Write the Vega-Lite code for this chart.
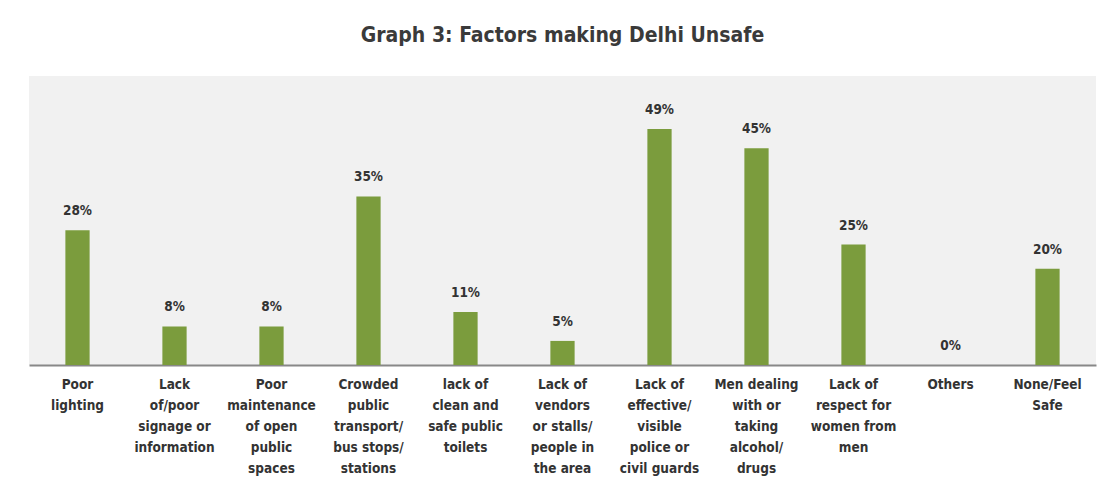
{
  "$schema": "https://vega.github.io/schema/vega-lite/v6.json",
  "autosize": "none",
  "width": 1067,
  "height": 289,
  "padding": {"left": 29, "top": 76, "right": 18, "bottom": 128},
  "background": "#ffffff",
  "title": {
    "text": "Graph 3: Factors making Delhi Unsafe",
    "font": "DejaVu Sans Condensed",
    "fontSize": 21,
    "fontWeight": "bold",
    "color": "#3a3a3a",
    "anchor": "middle",
    "offset": 30
  },
  "data": {
    "values": [
      {"factor": "Poor|lighting", "value": 28},
      {"factor": "Lack|of/poor|signage or|information", "value": 8},
      {"factor": "Poor|maintenance|of open|public|spaces", "value": 8},
      {"factor": "Crowded|public|transport/|bus stops/|stations", "value": 35},
      {"factor": "lack of|clean and|safe public|toilets", "value": 11},
      {"factor": "Lack of|vendors|or stalls/|people in|the area", "value": 5},
      {"factor": "Lack of|effective/|visible|police or|civil guards", "value": 49},
      {"factor": "Men dealing|with or|taking|alcohol/|drugs", "value": 45},
      {"factor": "Lack of|respect for|women from|men", "value": 25},
      {"factor": "Others", "value": 0},
      {"factor": "None/Feel|Safe", "value": 20}
    ]
  },
  "transform": [{"calculate": "datum.value + '%'", "as": "pct"}],
  "encoding": {
    "x": {
      "field": "factor",
      "type": "nominal",
      "sort": null,
      "scale": {"paddingInner": 0.75, "paddingOuter": 0.375},
      "axis": {
        "title": null,
        "labelAngle": 0,
        "labelExpr": "split(datum.label, '|')",
        "labelFont": "DejaVu Sans Condensed",
        "labelFontSize": 13.5,
        "labelFontWeight": "bold",
        "labelColor": "#333333",
        "labelLineHeight": 21,
        "labelPadding": 12,
        "labelBaseline": "top",
        "labelLimit": 200,
        "ticks": false,
        "domainColor": "#888888",
        "domainWidth": 2
      }
    },
    "y": {
      "field": "value",
      "type": "quantitative",
      "scale": {"domain": [0, 60], "nice": false},
      "axis": null
    }
  },
  "layer": [
    {"mark": {"type": "bar", "color": "#7b9c3d"}},
    {
      "mark": {
        "type": "text",
        "baseline": "bottom",
        "dy": -12,
        "font": "DejaVu Sans Condensed",
        "fontSize": 13.5,
        "fontWeight": "bold",
        "color": "#333333"
      },
      "encoding": {"text": {"field": "pct"}}
    }
  ],
  "config": {
    "view": {"fill": "#f1f1f1", "stroke": null}
  }
}
